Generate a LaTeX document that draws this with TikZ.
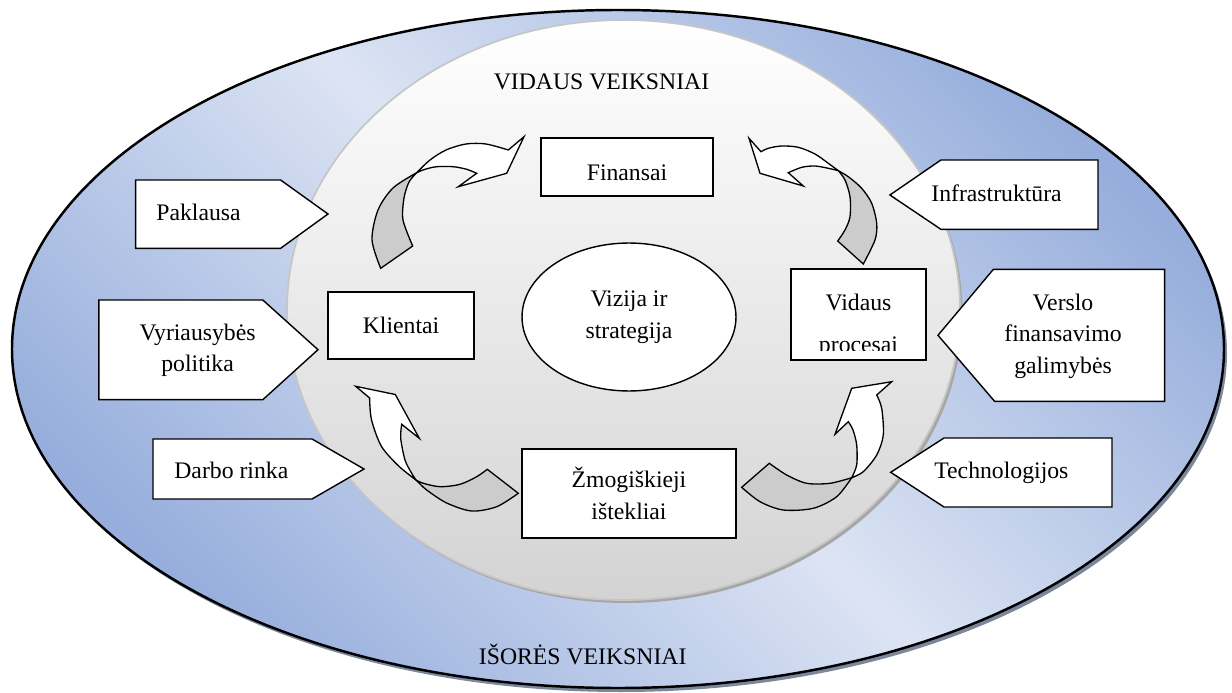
\documentclass[tikz,border=0pt]{standalone}
\usepackage{fontspec}
\setmainfont{Liberation Serif}
\usetikzlibrary{shapes.geometric}

\definecolor{outerlight}{HTML}{DCE4F4}
\definecolor{outerdark}{HTML}{97AEDC}
\definecolor{outershadow}{HTML}{7C879B}
\definecolor{innerbottom}{HTML}{D3D3D3}
\definecolor{innerline}{HTML}{C6C6C6}
\definecolor{innershadow}{HTML}{A6A6A6}
\definecolor{bandgray}{HTML}{CCCCCC}

\begin{document}
\begin{tikzpicture}[x=0.02cm, y=-0.02cm,
    every node/.style={font=\fontsize{13.5}{17.9}\selectfont},
    box/.style={draw, fill=white, line width=0.8pt, inner sep=0pt, align=center},
    factor/.style={draw, fill=white, line width=0.8pt, line join=miter},
    greyband/.style={draw, fill=bandgray, line width=0.75pt},
    whiteband/.style={draw, fill=white, line width=0.75pt}]

    \fill[white] (0,0) rectangle (1232,693);
    \useasboundingbox (0,0) rectangle (1232,693);

    %outer field
    \fill[outershadow] (621,353) ellipse [x radius=606, y radius=339];
    \shade[top color=outerdark, bottom color=outerdark, middle color=outerlight, shading angle=-45]
        (618,349) ellipse [x radius=606, y radius=339];
    \draw[line width=1.4pt] (618,349) ellipse [x radius=606, y radius=339];

    %inner field
    \fill[innershadow] (626,313) ellipse [x radius=336.5, y radius=290];
    \shade[top color=white, bottom color=innerbottom] (623.5,310) ellipse [x radius=336.5, y radius=290];
    \draw[innerline, line width=1pt] (623.5,310) ellipse [x radius=336.5, y radius=290];

    %titles
    \node[anchor=base] (vidaus) at (601.5,90) {VIDAUS VEIKSNIAI};
    \node[anchor=base] (isores) at (582.7,664.7) {IŠORĖS VEIKSNIAI};

    %inner boxes
    \node[box, minimum width=3.44cm, minimum height=1.16cm, text height=0.56cm, text depth=0pt] (finansai) at (627,167) {Finansai};
    \node[box, minimum width=2.92cm, minimum height=1.34cm] (klientai) at (401,325.5) {Klientai};
    \node[box, minimum width=2.7cm, minimum height=1.82cm] (procesai) at (858.5,314.5) {};
    \begin{scope}
        \clip (791,269) rectangle (926,350);
        \node[anchor=base] (procesai1) at (858.5,310) {Vidaus};
        \node[anchor=base] (procesai2) at (858.5,352) {procesai};
    \end{scope}
    \node[box, minimum width=4.28cm, minimum height=1.78cm] (zmones) at (629,493.5) {Žmogiškieji\\ištekliai};
    \node[box, ellipse, minimum width=4.28cm, minimum height=2.96cm] (vizija) at (629,317) {Vizija ir\\strategija};

    %outer factors
    \draw[factor] (135.6,180) -- (280.6,180) -- (328,214) -- (280.6,248.3) -- (135.6,248.3) -- cycle;
    \node[anchor=base west, inner sep=0pt] (paklausa) at (156,220.7) {Paklausa};
    \draw[factor] (98.8,300) -- (262.8,300) -- (318,349.7) -- (262.8,399.7) -- (98.8,399.7) -- cycle;
    \node[align=center, inner sep=0pt] (politika) at (197.6,350.3) {Vyriausybės\\politika};
    \draw[factor] (153,439) -- (312,439) -- (364,469) -- (312,499) -- (153,499) -- cycle;
    \node[anchor=base west, inner sep=0pt] (rinka) at (174,478) {Darbo rinka};
    \draw[factor] (889.9,195) -- (940.9,160) -- (1098,160) -- (1098,229.3) -- (940.9,229.3) -- cycle;
    \node[anchor=base west, inner sep=0pt] (infra) at (931,201.7) {Infrastruktūra};
    \draw[factor] (938,335.3) -- (993.4,269.3) -- (1164.6,269.3) -- (1164.6,401.3) -- (994.6,401.3) -- cycle;
    \node[align=center, inner sep=0pt] (verslas) at (1063,336) {Verslo\\finansavimo\\galimybės};
    \draw[factor] (890.7,472.3) -- (944,438) -- (1112,438) -- (1112,507) -- (944,507) -- cycle;
    \node[anchor=base west, inner sep=0pt] (techno) at (934,478) {Technologijos};

    %curved arrows: Klientai -> Finansai
    \filldraw[greyband] plot[smooth] coordinates {(380.7,268.3) (372,240) (378,210) (393,188) (416.7,172.7)}
        -- plot[smooth] coordinates {(416.7,172.7) (409,182) (404,198) (403,220) (412.7,246)} -- cycle;
    \filldraw[whiteband] plot[smooth] coordinates {(416.7,172.7) (430,160) (446,150) (466,144) (486,144) (508.3,150)}
        -- (524,136.7) -- (506.7,173.3) -- (458.3,186.7)
        -- plot[smooth] coordinates {(476.7,173.3) (466.7,169.3) (453.3,166.7) (436.7,166.7) (425,169.3) (416.7,172.7)} -- cycle;

    %Vidaus procesai -> Finansai
    \filldraw[greyband] plot[smooth] coordinates {(863.3,264) (875,240) (876.7,223.3) (871.7,203.3) (861.7,188.3) (848.3,176.7) (838.3,170.7)}
        -- plot[smooth] coordinates {(838.3,170.7) (845,180) (850,196.7) (850,216.7) (845,230) (837.7,241)} -- cycle;
    \filldraw[whiteband] plot[smooth] coordinates {(838.3,170.7) (828.3,163.3) (815,154) (798.3,147.3) (781.7,146) (768.3,148.3) (761,151.7)}
        -- (749,138.3) -- (760,173.3) -- (803.3,186)
        -- plot[smooth] coordinates {(788.3,172.7) (801.7,167.3) (815,166) (828.3,168.3) (838.3,170.7)} -- cycle;

    %Zmogiskieji istekliai -> Klientai
    \filldraw[greyband] plot[smooth] coordinates {(487.3,469.3) (476.7,476.7) (460,484.3) (440,486.7) (423.3,483.3) (416,480)}
        -- plot[smooth] coordinates {(416,480) (426.7,490) (446.7,503) (471.7,511) (496.7,506.7) (518.3,493.3)} -- cycle;
    \filldraw[whiteband] plot[smooth] coordinates {(416,480) (399,466.3) (381.4,446.3) (371.5,419.7) (369.6,398)}
        -- (355.7,386.3) -- (395.3,394.5) -- (419.3,438.3)
        -- plot[smooth] coordinates {(401.7,424.3) (400.7,438.3) (405,460) (411.7,473.3) (416,480)} -- cycle;

    %Zmogiskieji istekliai -> Vidaus procesai
    \filldraw[greyband] plot[smooth] coordinates {(769.3,463.3) (786.7,475) (806.7,483.3) (830,483.3) (851.7,477.7)}
        -- plot[smooth] coordinates {(851.7,477.7) (836.7,496.7) (813.3,508.3) (783.3,510) (760,501.7) (741.7,487.3)} -- cycle;
    \filldraw[whiteband] plot[smooth] coordinates {(851.7,477.7) (856.7,465) (856.7,445) (853,430) (848.3,421.7)}
        -- (835,434.3) -- (851.7,388.3) -- (891.7,381.7)
        -- plot[smooth] coordinates {(876.7,395) (881.7,408.3) (883.3,435) (876.7,455) (863.3,471.7) (851.7,477.7)} -- cycle;
\end{tikzpicture}
\end{document}
